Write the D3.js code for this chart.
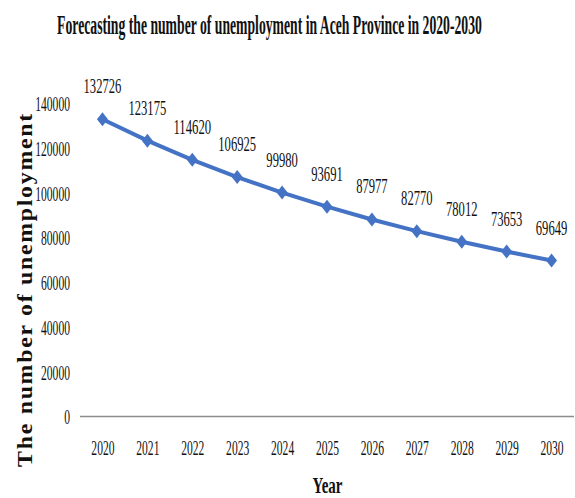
<!DOCTYPE html>
<html>
<head>
<meta charset="UTF-8">
<style>
  body { margin: 0; background: #fff; }
  svg text { font-family: "Liberation Serif", "Times New Roman", serif; fill: #111; }
  .title { font-size: 28px; font-weight: bold; }
  .axis-title { font-weight: bold; }
  .tick-label, .data-label { font-size: 22px; }
</style>
<script src="https://d3js.org/d3.v7.min.js"></script>
</head>
<body>
<svg></svg>
<script>
// data
var years = ['2020', '2021', '2022', '2023', '2024', '2025', '2026', '2027', '2028', '2029', '2030'];
var unemployed = [132726, 123175, 114620, 106925, 99980, 93691, 87977, 82770, 78012, 73653, 69649];
var yTicks = [0, 20000, 40000, 60000, 80000, 100000, 120000, 140000];

var W = 575, H = 498;
var margin = { top: 103, right: 1, bottom: 82, left: 80 };
var digitW = 5.8; // the reference text is tall and narrow: ~5.8px per digit

var svg = d3.select('svg').attr('width', W).attr('height', H);

var x = d3.scalePoint()
  .domain(years)
  .range([margin.left, W - margin.right])
  .padding(0.5);

var y = d3.scaleLinear()
  .domain([0, 140000])
  .range([H - margin.bottom + 0.5, margin.top]);

// squeeze text sideways with a scale transform, so it keeps its anchor point
function squeezeTo(sel, widthFn) {
  sel.each(function(d, i) {
    var t = d3.select(this);
    var w = this.getComputedTextLength();
    var k = widthFn.call(this, d, i) / w;
    var x0 = +(t.attr('x') || 0), y0 = +(t.attr('y') || 0);
    var tr = t.attr('transform') || '';
    t.attr('x', 0).attr('y', 0)
      .attr('transform', tr + ' translate(' + x0 + ',' + y0 + ') scale(' + k + ',1)');
  });
}
function digitsWidth() { return this.textContent.length * digitW; }

// title
svg.append('text')
  .attr('class', 'title')
  .attr('x', 269.5)
  .attr('y', 34)
  .attr('text-anchor', 'middle')
  .text('Forecasting the number  of unemployment  in  Aceh Province in 2020-2030')
  .call(squeezeTo, function() { return 425; });

// y axis (labels only)
var yAxis = svg.append('g')
  .attr('transform', 'translate(' + margin.left + ',0)')
  .call(d3.axisLeft(y).tickValues(yTicks).tickFormat(d3.format('d')).tickSize(0).tickPadding(10));
yAxis.select('.domain').remove();
yAxis.selectAll('text')
  .attr('class', 'tick-label')
  .attr('font-size', null).attr('font-family', null)
  .attr('fill', '#111')
  .attr('dy', '0.34em')
  .call(squeezeTo, digitsWidth);

// x axis
var xAxis = svg.append('g')
  .attr('transform', 'translate(0,' + y(0) + ')')
  .call(d3.axisBottom(x).tickSize(0).tickPadding(23));
xAxis.select('.domain')
  .attr('d', 'M' + margin.left + ',0H' + (W - margin.right))
  .attr('stroke', '#8c8c8c')
  .attr('stroke-width', 1.5);
xAxis.selectAll('text')
  .attr('class', 'tick-label')
  .attr('font-size', null).attr('font-family', null)
  .attr('fill', '#111')
  .call(squeezeTo, digitsWidth);

// axis titles
svg.append('text')
  .attr('class', 'axis-title')
  .attr('x', 327.5)
  .attr('y', 493)
  .attr('text-anchor', 'middle')
  .attr('font-size', 23)
  .text('Year')
  .call(squeezeTo, function() { return 30; });

svg.append('text')
  .attr('class', 'axis-title')
  .attr('transform', 'translate(32,289.5) rotate(-90)')
  .attr('text-anchor', 'middle')
  .attr('font-size', 21)
  .attr('letter-spacing', 1.5)
  .text('The number of unemployment')
  .call(squeezeTo, function() { return 355; });

// line
var pts = years.map(function(yr, i) { return { year: yr, value: unemployed[i] }; });
var line = d3.line()
  .x(function(d) { return x(d.year); })
  .y(function(d) { return y(d.value); });

svg.append('path')
  .datum(pts)
  .attr('d', line)
  .attr('fill', 'none')
  .attr('stroke', '#4472C4')
  .attr('stroke-width', 4)
  .attr('stroke-linejoin', 'round');

// diamond markers (taller than wide, as in the reference)
svg.selectAll('.marker')
  .data(pts)
  .enter().append('path')
  .attr('class', 'marker')
  .attr('d', 'M0,-7L5.5,0L0,7L-5.5,0Z')
  .attr('transform', function(d) { return 'translate(' + x(d.year) + ',' + y(d.value) + ')'; })
  .attr('fill', '#4472C4');

// data labels
svg.selectAll('.data-label')
  .data(pts)
  .enter().append('text')
  .attr('class', 'data-label')
  .attr('x', function(d) { return x(d.year); })
  .attr('y', function(d) { return y(d.value) - 26; })
  .attr('text-anchor', 'middle')
  .text(function(d) { return d.value; })
  .call(squeezeTo, function() { return this.textContent.length * 6.3; });
</script>
</body>
</html>
